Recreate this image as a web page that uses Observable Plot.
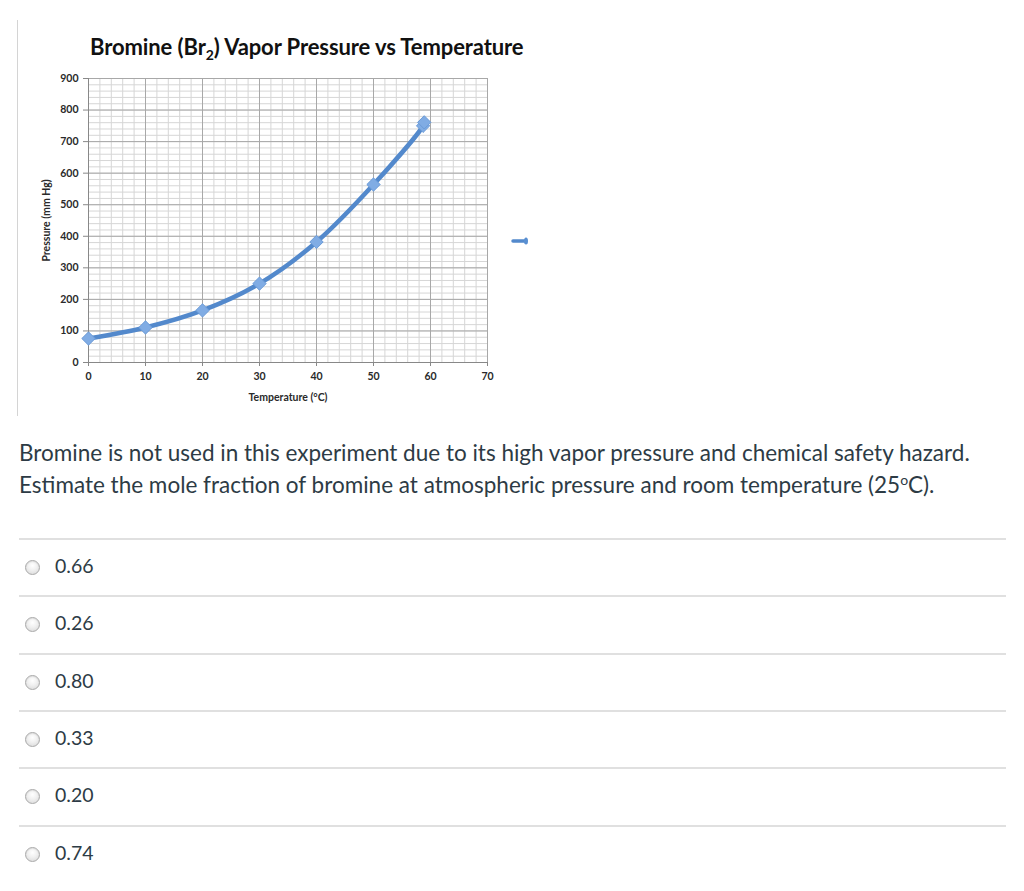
<!DOCTYPE html>
<html>
<head>
<meta charset="utf-8">
<script src="https://cdn.jsdelivr.net/npm/d3@7"></script>
<script src="https://cdn.jsdelivr.net/npm/@observablehq/plot@0.6"></script>
<style>
  html, body { margin:0; padding:0; background:#fff; }
  body { width:1024px; height:891px; position:relative; overflow:hidden; font-family: Lato, "Open Sans", sans-serif; }
  #frameLine { position:absolute; left:17px; top:20px; width:1px; height:396px; background:#d4d4d4; }
  #title { position:absolute; left:90px; top:33px; font-family: Lato, sans-serif; font-weight:700; font-size:22px; color:#111; white-space:nowrap; letter-spacing:-0.1px; }
  #title sub { font-size:14px; vertical-align:-5px; line-height:0; }
  #chart { position:absolute; left:20px; top:60px; }
  #legendMark { position:absolute; left:508px; top:234px; }
  #question { position:absolute; left:19px; top:437px; font-size:22.5px; line-height:32px; color:#2d3b45; white-space:nowrap; }
  #question sup { font-size:14px; vertical-align:8px; line-height:0; }
  .opt { position:absolute; left:19px; width:987px; border-top:2px solid #e0e0e0; height:56px; }
  .opt .radio { position:absolute; left:6px; top:20px; width:13px; height:13px; border-radius:50%; border:1px solid #a9a9a9;
    background: radial-gradient(circle at 50% 35%, #ffffff 0%, #f0f0f0 45%, #d5d5d5 100%); box-shadow: inset 0 1px 1px rgba(0,0,0,0.08); }
  .opt .lbl { position:absolute; left:36px; top:14px; font-size:19.5px; color:#2d3b45; }
</style>
</head>
<body>
<div id="frameLine"></div>
<div id="title">Bromine (Br<sub>2</sub>) Vapor Pressure vs Temperature</div>
<div id="chart"></div>
<svg id="legendMark" width="24" height="14"></svg>
<div id="question">Bromine is not used in this experiment due to its high vapor pressure and chemical safety hazard.<br>Estimate the mole fraction of bromine at atmospheric pressure and room temperature (25<sup>o</sup>C).</div>
<div id="options"></div>
<script>
// ---- data ----
const temperatures = [0, 10, 20, 30, 40, 50, 58.7, 58.9];
const pressures    = [76, 111, 165, 250, 382, 564, 750, 761];
const xTicks = [0, 10, 20, 30, 40, 50, 60, 70];
const yTicks = [0, 100, 200, 300, 400, 500, 600, 700, 800, 900];
const xMinorTicks = [0,2,4,6,8,10,12,14,16,18,20,22,24,26,28,30,32,34,36,38,40,42,44,46,48,50,52,54,56,58,60,62,64,66,68,70];
const yMinorTicks = [0,20,40,60,80,100,120,140,160,180,200,220,240,260,280,300,320,340,360,380,400,420,440,460,480,500,520,540,560,580,600,620,640,660,680,700,720,740,760,780,800,820,840,860,880,900];
const answerChoices = ["0.66", "0.26", "0.80", "0.33", "0.20", "0.74"];
const xLabel = "Temperature (°C)";
const yLabel = "Pressure (mm Hg)";

const data = temperatures.map((t, i) => ({t, p: pressures[i]}));

const chart = Plot.plot({
  width: 520,
  height: 350,
  marginLeft: 68,
  marginTop: 18,
  marginRight: 53,
  marginBottom: 48,
  style: { fontFamily: "Lato, sans-serif", fontSize: "10.5px", fontWeight: "700", color: "#2a2a2a", background: "transparent" },
  x: { domain: [0, 70] },
  y: { domain: [0, 900] },
  marks: [
    Plot.gridX(xMinorTicks, { stroke: "#d6d6d6", strokeOpacity: 1, strokeWidth: 1 }),
    Plot.gridY(yMinorTicks, { stroke: "#d6d6d6", strokeOpacity: 1, strokeWidth: 1 }),
    Plot.gridX(xTicks, { stroke: "#a8a8a8", strokeOpacity: 1, strokeWidth: 1 }),
    Plot.gridY(yTicks, { stroke: "#a8a8a8", strokeOpacity: 1, strokeWidth: 1 }),
    Plot.axisX(xTicks, { tickSize: 4, tickPadding: 6, stroke: "#888", label: xLabel, labelAnchor: "center", labelOffset: 38, labelArrow: "none", tickFormat: d => d }),
    Plot.axisY(yTicks, { tickSize: 5, tickPadding: 5, stroke: "#888", label: yLabel, labelAnchor: "center", labelOffset: 46, labelArrow: "none", tickFormat: d => d }),
    Plot.ruleX([0], { stroke: "#888" }),
    Plot.ruleY([0], { stroke: "#888" }),
    Plot.line(data, { x: "t", y: "p", curve: "catmull-rom", stroke: "#5389cc", strokeWidth: 4.5, strokeLinecap: "round" }),
    Plot.dot(data, { x: "t", y: "p", symbol: "diamond2", r: 6, fill: "#80ace4", stroke: "#6a9bd8", strokeWidth: 1 })
  ]
});
document.getElementById("chart").appendChild(chart);

// stray legend swatch (line + marker)
const lm = d3.select("#legendMark");
lm.append("line").attr("x1", 5).attr("x2", 17).attr("y1", 7).attr("y2", 7).attr("stroke", "#5389cc").attr("stroke-width", 3.5).attr("stroke-linecap", "round");
lm.append("ellipse").attr("cx", 18).attr("cy", 7).attr("rx", 2).attr("ry", 3.5).attr("fill", "#5a90d2");

// answer choices
const opts = document.getElementById("options");
answerChoices.forEach((c, i) => {
  const div = document.createElement("div");
  div.className = "opt";
  div.style.top = (538 + i * 57.3) + "px";
  div.innerHTML = `<div class="radio"></div><div class="lbl">${c}</div>`;
  opts.appendChild(div);
});
</script>
</body>
</html>
